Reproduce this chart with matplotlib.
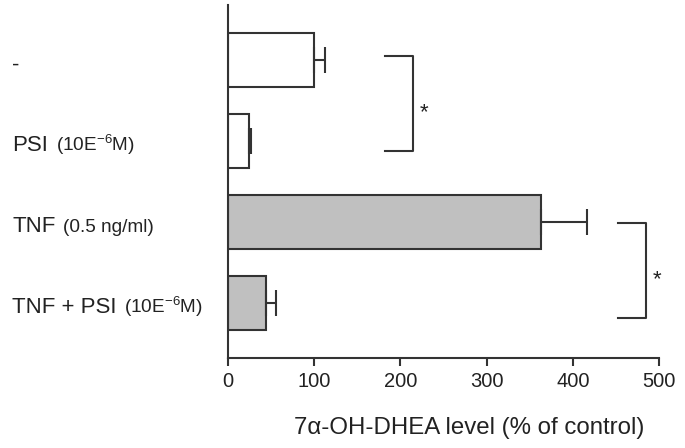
import matplotlib
matplotlib.use("Agg")
import matplotlib.pyplot as plt
from matplotlib.transforms import blended_transform_factory

plt.rcParams['font.family'] = ['Liberation Sans', 'DejaVu Sans']
plt.rcParams['mathtext.fontset'] = 'custom'
plt.rcParams['mathtext.rm'] = 'Liberation Sans'
plt.rcParams['mathtext.it'] = 'Liberation Sans:italic'

# data
labels_main = ["-", "PSI", "TNF", "TNF + PSI"]
labels_sub = ["", "(10E$^{-6}$M)", "(0.5 ng/ml)", "(10E$^{-6}$M)"]
values = [100, 24, 363, 44]
errors = [13, 3, 54, 12]
colors = ["white", "white", "#c0c0c0", "#c0c0c0"]
xticks = [0, 100, 200, 300, 400, 500]
xlabel = "7α-OH-DHEA level (% of control)"
# significance brackets: (y_top, y_bottom, x_left, x_right)
brackets = [(-0.05, 1.12, 182, 214), (2.01, 3.19, 452, 485)]

ink = "#333333"
txt = "#222222"
fig = plt.figure(figsize=(6.85, 4.48), dpi=100)
ax = fig.add_axes([0.333, 0.2016, 0.629, 0.7874])

ypos = list(range(len(values)))
ax.barh(ypos, values, height=0.667, color=colors, edgecolor=ink, linewidth=1.5,
        xerr=[[0]*len(errors), errors], error_kw=dict(ecolor=ink, elinewidth=1.5,
        capsize=9.7, capthick=1.5))

ax.set_ylim(3.68, -0.68)
ax.set_xlim(0, 500)
ax.set_xticks(xticks)
ax.set_yticks([])
for s in ['top', 'right']:
    ax.spines[s].set_visible(False)
for s in ['left', 'bottom']:
    ax.spines[s].set_color(ink)
    ax.spines[s].set_linewidth(1.5)
ax.tick_params(axis='x', direction='out', length=6, width=1.5, color=ink,
               labelsize=14.5, labelcolor=txt, pad=4)

fig.text(469 / 685, 1 - 428 / 448, xlabel, fontsize=17.3, color=txt,
         ha='center', va='center')

for (yt, yb, xl, xr) in brackets:
    ax.plot([xl, xr, xr, xl], [yt, yt, yb, yb], color=ink, lw=1.5, clip_on=False)
    ax.annotate("*", xy=(xr, (yt + yb) / 2), xytext=(5, -10.5),
                textcoords='offset points', fontsize=16, color=txt,
                ha='left', va='baseline', annotation_clip=False)

trans = blended_transform_factory(fig.transFigure, ax.transData)
fig.canvas.draw()
renderer = fig.canvas.get_renderer()
for i, (m, s) in enumerate(zip(labels_main, labels_sub)):
    t = fig.text(12 / 685, i + 0.13, m, transform=trans, fontsize=16,
                 color=txt, ha='left', va='baseline')
    if s:
        bb = t.get_window_extent(renderer)
        xf = (bb.x1 + 8) / fig.bbox.width
        fig.text(xf, i + 0.13, s, transform=trans, fontsize=13.7,
                 color=txt, ha='left', va='baseline')

fig.savefig("out.png", dpi=100)
